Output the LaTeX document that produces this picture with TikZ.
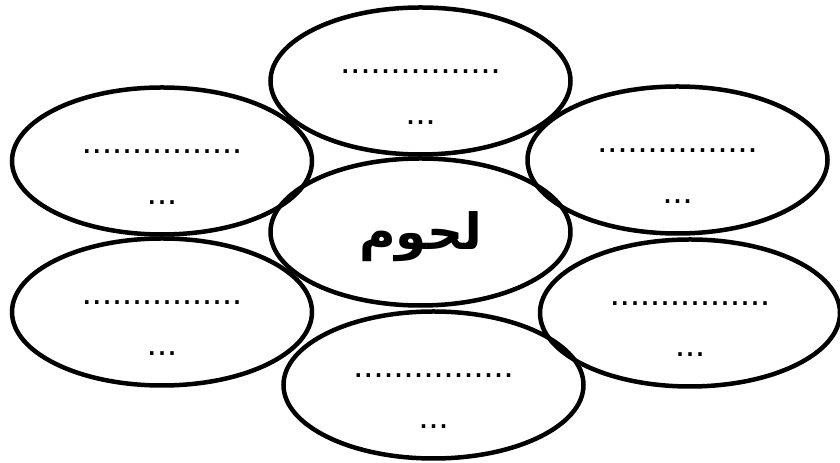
\documentclass[tikz,border=0pt]{standalone}
\usepackage{fontspec}
\setmainfont{Liberation Sans}
\newfontfamily\arabicfont[Script=Arabic]{DejaVu Sans}
\TeXXeTstate=1
\usetikzlibrary{shapes.geometric}
\begin{document}
\begin{tikzpicture}[x=1bp,y=1bp,
  petal/.style={draw, line width=4.5bp, ellipse, minimum width=300bp, minimum height=147bp, inner sep=0pt},
  dotsrow/.style={anchor=base, inner sep=0pt, font=\fontsize{36bp}{40bp}\selectfont},
  dotsshort/.style={anchor=base, inner sep=0pt, font=\fontsize{36bp}{40bp}\selectfont},
  centertext/.style={anchor=base, inner sep=0pt, font=\fontsize{50bp}{60bp}\arabicfont\bfseries}
  ]
\useasboundingbox (0,0) rectangle (840,463);
\node[petal] (T)  at (420.5,382) {};
\node[petal] (C)  at (420.5,231) {};
\node[petal] (TL) at (162,302) {};
\node[petal] (TR) at (677.5,303) {};
\node[petal] (BL) at (162,151) {};
\node[petal] (BR) at (690,150) {};
\node[petal] (B)  at (433.5,78) {};
\foreach \n in {T,TL,TR,BL,BR,B}{
  \node[dotsrow] (\n d1) at ([yshift=7bp]\n.center) {................};
  \node[dotsshort] (\n d2) at ([yshift=-44bp]\n.center) {...};
}
\node[centertext] (Ct) at ([yshift=-18bp]C.center) {\beginR لحوم\endR};
\end{tikzpicture}
\end{document}
